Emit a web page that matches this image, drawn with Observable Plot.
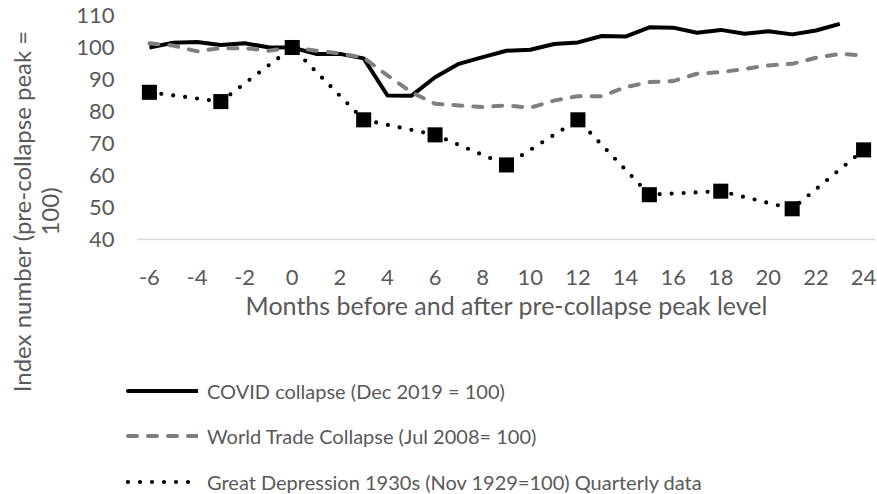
<!DOCTYPE html>
<html><head><meta charset="utf-8">
<script src="https://cdn.jsdelivr.net/npm/d3@7"></script>
<script src="https://cdn.jsdelivr.net/npm/@observablehq/plot@0.6"></script>
<style>
body{margin:0;background:#fff;font-family:Lato,"Open Sans",sans-serif;}
#chart{width:877px;height:494px;overflow:hidden;background:#fff}
.legend{padding-top:23px;padding-left:126px;color:#595959;font-size:20px}
.row{height:45.5px;display:flex;align-items:center}
.row svg{margin-right:9px}
</style></head><body><div id="chart"></div>
<script>
// Data
const covidMonths = [-6,-5,-4,-3,-2,-1,0,1,2,3,4,5,6,7,8,9,10,11,12,13,14,15,16,17,18,19,20,21,22,23];
const covidValues = [100,101.5,101.7,100.8,101.3,100.1,100,98,98,96.6,85,84.9,90.7,94.9,97,99,99.3,101.1,101.6,103.6,103.4,106.3,106.2,104.6,105.5,104.3,105.1,104.1,105.3,107.4];
const wtcMonths = [-6,-5,-4,-3,-2,-1,0,1,2,3,4,5,6,7,8,9,10,11,12,13,14,15,16,17,18,19,20,21,22,23,24];
const wtcValues = [101.3,100.6,98.8,99.8,99.8,99,100,99,98.2,96.8,91.3,86,82.4,81.9,81.4,81.9,81.2,83.4,84.8,84.8,87.6,89.2,89.5,91.8,92.3,93.3,94.4,94.9,96.8,98,97.5];
const gdMonths = [-6,-3,0,3,6,9,12,15,18,21,24];
const gdValues = [86,83.1,100,77.4,72.7,63.3,77.4,54,55.1,49.6,68];
const xTicks = [-6,-4,-2,0,2,4,6,8,10,12,14,16,18,20,22,24];
const yTicks = [40,50,60,70,80,90,100,110];
const seriesNames = ["COVID collapse (Dec 2019 = 100)","World Trade Collapse (Jul 2008= 100)","Great Depression 1930s (Nov 1929=100) Quarterly data"];
const xTitle = "Months before and after pre-collapse peak level";
const yTitle = "Index number (pre-collapse peak =\n100)";

const covid = covidMonths.map((m,i)=>({m, v: covidValues[i]}));
const wtc = wtcMonths.map((m,i)=>({m, v: wtcValues[i]}));
const gd = gdMonths.map((m,i)=>({m, v: gdValues[i]}));

const styles = [
  {stroke:"#000000", strokeWidth:4, strokeDasharray:null, strokeLinecap:"butt"},
  {stroke:"#7f7f7f", strokeWidth:4, strokeDasharray:"9,11", strokeLinecap:"round"},
  {stroke:"#000000", strokeWidth:4.2, strokeDasharray:"0,12", strokeLinecap:"round"}
];

const chart = Plot.plot({
  width: 877, height: 345,
  marginLeft: 137, marginRight: 2, marginTop: 15, marginBottom: 106,
  style: {fontFamily: "Lato, 'Open Sans', sans-serif", fontSize: "22px", color: "#595959", overflow: "visible", background: "#fff"},
  x: {domain: [-6.5, 24.5]},
  y: {domain: [40, 110]},
  marks: [
    Plot.ruleY([40], {stroke: "#d9d9d9", strokeWidth: 1.5}),
    Plot.axisY({ticks: yTicks, tickSize: 0, tickPadding: 23, label: null, fill: "#595959"}),
    Plot.axisX({ticks: xTicks, tickSize: 0, tickPadding: 30, label: null, tickFormat: d => String(d), fill: "#595959"}),
    Plot.line(covid, {x: "m", y: "v", ...styles[0], strokeLinejoin: "round"}),
    Plot.line(wtc, {x: "m", y: "v", ...styles[1], strokeLinejoin: "round"}),
    Plot.line(gd, {x: "m", y: "v", ...styles[2]}),
    Plot.dot(gd, {x: "m", y: "v", symbol: "square", r: 8.5, fill: "#000", stroke: null}),
    Plot.text([xTitle], {frameAnchor: "bottom", dy: 75, fill: "#595959", fontSize: 25}),
    Plot.text([yTitle], {frameAnchor: "left", rotate: -90, dx: -101.5, dy: 84, lineHeight: 1.15, fill: "#595959", fontSize: 24, textAnchor: "middle", lineAnchor: "middle"})
  ]
});

const root = document.getElementById("chart");
root.appendChild(chart);

const legend = document.createElement("div");
legend.className = "legend";
seriesNames.forEach((name, i) => {
  const row = document.createElement("div");
  row.className = "row";
  const s = styles[i];
  const ns = "http://www.w3.org/2000/svg";
  const svg = document.createElementNS(ns, "svg");
  svg.setAttribute("width", 72); svg.setAttribute("height", 20);
  const ln = document.createElementNS(ns, "line");
  ln.setAttribute("x1", 2); ln.setAttribute("x2", 71);
  ln.setAttribute("y1", 10); ln.setAttribute("y2", 10);
  ln.setAttribute("stroke", s.stroke);
  ln.setAttribute("stroke-width", s.strokeWidth);
  if (s.strokeDasharray) ln.setAttribute("stroke-dasharray", s.strokeDasharray);
  ln.setAttribute("stroke-linecap", i === 0 ? "round" : s.strokeLinecap);
  svg.appendChild(ln);
  const t = document.createElement("span");
  t.textContent = name;
  row.appendChild(svg); row.appendChild(t);
  legend.appendChild(row);
});
root.appendChild(legend);
</script>
</body></html>
